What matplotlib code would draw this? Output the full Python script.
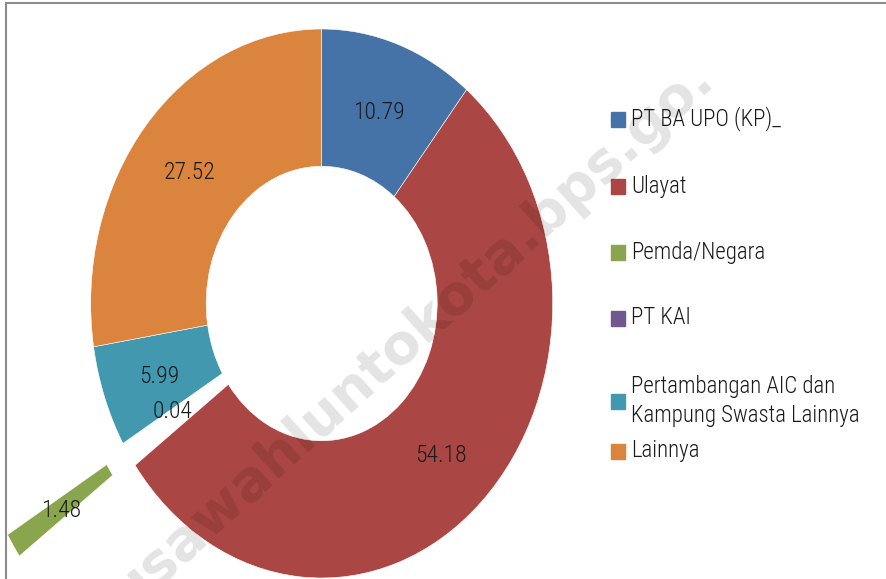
import matplotlib
matplotlib.use("Agg")
import matplotlib.pyplot as plt
import numpy as np
from matplotlib.patches import Rectangle

# ---- data ----
categories = ["PT BA UPO (KP)_", "Ulayat", "Pemda/Negara", "PT KAI",
              "Pertambangan AIC dan\nKampung Swasta Lainnya", "Lainnya"]
shares = [10.79, 54.18, 1.48, 0.04, 5.99, 27.52]
labels = ["10.79", "54.18", "1.48", "0.04", "5.99", "27.52"]
colours = ["#4572A7", "#AA4643", "#89A54E", "#71588F", "#4198AF", "#DB843D"]
explode = [0, 0, 0.6, 0, 0, 0]

plt.rcParams["font.family"] = ["Roboto Condensed", "DejaVu Sans"]
plt.rcParams["font.weight"] = 300

W, H = 887, 579
fig = plt.figure(figsize=(W / 100, H / 100), dpi=100)
ax = fig.add_axes([0, 0, 1, 1])

wedges, _ = ax.pie(shares, colors=colours, startangle=90, counterclock=False,
                   explode=explode, radius=1.0,
                   wedgeprops=dict(width=0.5, edgecolor="white", linewidth=0.4))

# donut is stretched vertically in the original: set scale per axis
cx, cy = 321.7, H - 303.5
rx, ry = 231.0, 274.5
ax.set_aspect("auto")
ax.set_xlim(-cx / rx, (W - cx) / rx)
ax.set_ylim(-cy / ry, (H - cy) / ry)
ax.axis("off")

# data labels in the middle of the ring
cum = 0.0
for val, lab, ex in zip(shares, labels, explode):
    mid = np.deg2rad(90 - 3.6 * (cum + val / 2))
    r = 0.75 + ex
    ax.text(r * np.cos(mid), r * np.sin(mid) - 0.01, lab, ha="center",
            va="center", fontsize=17, color="#1a1a1a")
    cum += val

# legend drawn by hand to match the spacing of the original
leg_y = [119, 186, 252, 318, 401, 451]
for y, name, c in zip(leg_y, categories, colours):
    fig.patches.append(Rectangle((611 / W, 1 - (y + 8) / H), 14 / W, 15 / H,
                                 transform=fig.transFigure, color=c))
    fig.text(631 / W, 1 - y / H, name, ha="left", va="center", fontsize=16.5,
             color="#1a1a1a", linespacing=1.35)

# watermark
fig.text(412 / W, 1 - 335 / H, "usawahluntokota.bps.go.", rotation=42,
         ha="center", va="center", fontsize=40, fontweight="bold",
         family="DejaVu Sans", color="black", alpha=0.11)

# outer frame (only top and left edges are visible)
fig.patches.append(Rectangle((6 / W, -0.05), 1.1, 1 - 3 / H + 0.05,
                             transform=fig.transFigure, fill=False,
                             edgecolor="#8c8c8c", linewidth=1.5))

fig.savefig("out.png", dpi=100)
